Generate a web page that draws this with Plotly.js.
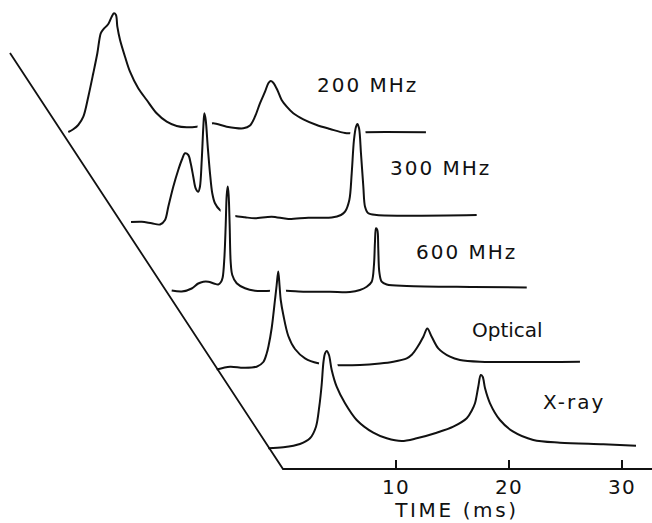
<!DOCTYPE html>
<html>
<head>
<meta charset="utf-8">
<script src="https://cdn.plot.ly/plotly-3.0.1.min.js"></script>
<style>
  html, body { margin: 0; padding: 0; background: #fff; }
  #chart { width: 652px; height: 523px; }
  #chart g.annotation[data-index="0"] text,
  #chart g.annotation[data-index="1"] text,
  #chart g.annotation[data-index="2"] text { letter-spacing: 2px; }
  #chart g.annotation[data-index="3"] text { letter-spacing: 0px; }
  #chart g.annotation[data-index="4"] text { letter-spacing: 2px; }
  #chart g.annotation[data-index="5"] text { letter-spacing: 2.6px; }
  #chart .xtick text { letter-spacing: 1.2px; }
</style>
</head>
<body>
<div id="chart"></div>
<script>
// Pulse profile labels (back to front)
const bandLabels = ["200 MHz", "300 MHz", "600 MHz", "Optical", "X-ray"];

// Time (ms, on the drawn axis) and intensity (arbitrary units above each profile's baseline)
const t200 = [-19.00,-18.56,-18.12,-17.67,-17.23,-16.79,-16.43,-16.13,-15.90,-15.46,-15.16,-14.96,-14.78,-14.66,-14.42,-13.98,-13.54,-12.81,-12.06,-11.18,-10.29,-9.41,-8.52,-7.64,-6.90,-6.17,-4.98,-3.51,-2.92,-2.48,-2.04,-1.59,-1.30,-1.09,-0.86,-0.50,-0.12,0.33,0.91,1.80,2.98,4.16,5.49,6.37,7.26,12.65];
const i200 = [0,0.27,0.7,1.53,3.53,5.87,7.87,9.87,10.27,10.8,11.53,11.87,11.7,10.53,9.2,7.53,6.03,4.37,3.2,1.87,1.03,0.6,0.47,0.53,0.7,0.87,0.53,0.37,0.65,1.53,2.87,4.03,4.87,5.1,4.93,4.2,3.2,2.53,1.87,1.27,0.7,0.3,-0.1,-0.1,-0.03,-0.03];

const t300 = [-13.45,-12.50,-11.62,-10.88,-10.44,-10.15,-9.71,-9.27,-8.96,-8.67,-8.38,-8.17,-7.94,-7.73,-7.50,-7.35,-7.19,-7.05,-6.96,-6.84,-6.66,-6.46,-6.26,-6.02,-5.58,-4.87,-4.25,-3.36,-2.48,-1.00,0.47,2.24,4.31,5.13,5.49,5.87,6.08,6.28,6.46,6.58,6.73,6.90,7.11,7.26,7.55,8.29,17.14];
const i300 = [-0.1,-0.07,-0.23,-0.35,0.1,1.43,3.43,5.1,6.1,6.77,6.6,5.77,4.43,3.27,2.93,3.43,6.1,9.43,10.77,10.1,7.43,4.77,2.77,1.77,1.1,0.7,0.5,0.37,0.27,0.43,0.2,0.33,0.35,0.6,0.93,2.1,4.77,8.1,9.43,9.7,9.27,6.77,3.43,1.43,0.77,0.6,0.6];

const t600 = [-9.85,-8.96,-8.08,-7.50,-7.05,-6.61,-6.11,-5.73,-5.49,-5.34,-5.19,-5.07,-4.98,-4.89,-4.81,-4.72,-4.63,-4.49,-4.10,-3.36,-2.48,-1.00,0.33,1.95,4.16,5.93,6.81,7.41,7.85,8.05,8.14,8.23,8.35,8.43,8.52,8.73,9.18,10.95,16.84,21.57];
const i600 = [0.05,-0.05,0.25,0.75,0.93,0.93,0.75,0.65,0.9,1.35,3.27,6.6,9.6,10.45,9.6,6.6,2.9,1.6,0.77,0.27,0.03,0.02,0.02,-0.07,-0.07,-0.1,0.1,0.43,0.93,2.6,4.93,6.27,6.1,4.27,1.93,0.93,0.65,0.5,0.4,0.35];

const tOpt = [-5.87,-4.69,-3.51,-2.33,-1.74,-1.44,-1.28,-1.00,-0.71,-0.56,-0.42,-0.31,-0.20,0.03,0.47,1.06,1.95,3.12,4.45,6.81,8.58,9.76,10.95,11.42,11.83,12.42,12.77,13.16,13.74,14.78,15.66,17.43,26.28];
const iOpt = [-0.05,0.23,0.13,0.23,0.7,1.57,2.3,4.1,6.9,8.4,9.75,8.4,6.9,5.4,3.3,2.0,1.07,0.57,0.4,0.4,0.55,0.73,1.07,1.45,2.07,3.23,4.05,3.23,2.07,1.23,0.9,0.73,0.73];

const tXray = [-1.30,0.03,1.50,2.39,2.92,3.21,3.42,3.58,3.72,3.87,4.07,4.31,4.75,5.49,6.52,7.99,9.18,10.50,11.83,13.60,15.07,16.26,16.73,16.99,17.28,17.50,17.67,17.88,18.32,19.20,20.38,22.15,24.51,28.35,31.24];
const iXray = [-0.03,0.07,0.4,0.97,2.13,4.13,6.3,8.6,9.47,9.7,9.3,7.8,6.13,4.47,2.8,1.53,0.97,0.7,0.97,1.53,2.13,2.97,3.8,4.47,6.13,7.3,7.13,5.97,4.47,2.8,1.63,0.8,0.53,0.37,0.23];

// Tick values on the time axis
const tickValues = [10, 20, 30];
const tickLabels = ["10", "20", "30"];

// ---- layout / style parameters (not data) ----
const stackOffset = [33.7, 24.8, 17.8, 10.0, 2.1];
const profiles = [[t200, i200], [t300, i300], [t600, i600], [tOpt, iOpt], [tXray, iXray]];
const labelPos = [[3.41, 38.4], [9.87, 30.1], [12.17, 21.75], [16.59, 13.9], [23.23, 6.75]];
const frameT = [-24.16, 0, 33];
const frameY = [41.6, 0, 0];
const INK = "#111111";
const FONT = "DejaVu Sans";

const traces = [];
profiles.forEach(([t, v], k) => {
  const y = v.map(d => d + stackOffset[k]);
  const yb = stackOffset[k] - 0.4;
  // white occluding fill + halo (hidden-line effect)
  traces.push({
    x: t.concat([t[t.length - 1], t[0]]),
    y: y.concat([yb, yb]),
    mode: "lines", fill: "toself", fillcolor: "#ffffff",
    line: { color: "#ffffff", width: 12, shape: "linear" },
    hoverinfo: "skip", showlegend: false
  });
  traces.push({
    x: t, y: y, mode: "lines",
    line: { color: INK, width: 2, shape: "spline", smoothing: 0.9 },
    hoverinfo: "skip", showlegend: false
  });
});
traces.push({
  x: frameT, y: frameY, mode: "lines",
  line: { color: INK, width: 1.8 }, hoverinfo: "skip", showlegend: false
});

const annotations = bandLabels.map((s, k) => ({
  text: s, x: labelPos[k][0], y: labelPos[k][1], xref: "x", yref: "y",
  xanchor: "left", yanchor: "middle", showarrow: false,
  font: { family: FONT, size: 20, color: INK }
}));
annotations.push({
  text: "TIME (ms)", x: 457 / 652, y: -31 / 479, xref: "paper", yref: "paper",
  xanchor: "center", yanchor: "middle", showarrow: false,
  font: { family: FONT, size: 20, color: INK }
});

const layout = {
  width: 652, height: 523,
  margin: { l: 0, r: 0, t: 0, b: 44, pad: 0 },
  paper_bgcolor: "#ffffff", plot_bgcolor: "#ffffff",
  showlegend: false,
  xaxis: {
    range: [-25.044, 32.655], anchor: "free", position: 10 / 479,
    showgrid: false, zeroline: false, showline: false,
    tickmode: "array", tickvals: tickValues, ticktext: tickLabels,
    ticks: "inside", ticklen: 9, tickwidth: 1.6, tickcolor: INK,
    ticklabelstandoff: 4,
    tickfont: { family: FONT, size: 20, color: INK },
    automargin: false, fixedrange: true
  },
  yaxis: {
    range: [-1, 46.9], visible: false, showgrid: false, zeroline: false,
    automargin: false, fixedrange: true
  },
  annotations: annotations
};

Plotly.newPlot("chart", traces, layout, { staticPlot: true, displayModeBar: false });
</script>
</body>
</html>
